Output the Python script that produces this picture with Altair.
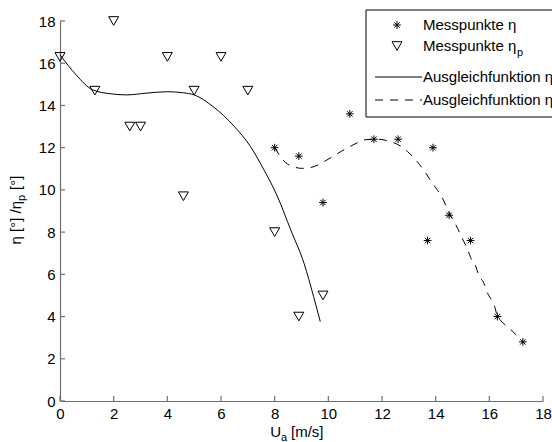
import altair as alt
import pandas as pd

# ---- data ----
tri_x = [0.0, 1.3, 2.0, 2.6, 3.0, 4.0, 4.6, 5.0, 6.0, 7.0, 8.0, 8.9, 9.8]
tri_y = [16.3, 14.7, 18.0, 13.0, 13.0, 16.3, 9.7, 14.7, 16.3, 14.7, 8.0, 4.0, 5.0]

star_x = [8.0, 8.9, 9.8, 10.8, 11.7, 12.6, 13.9, 14.5, 13.7, 15.3, 16.3, 17.25]
star_y = [12.0, 11.6, 9.4, 13.6, 12.4, 12.4, 12.0, 8.8, 7.6, 7.6, 4.0, 2.8]

fit1_x = [0.0, 0.6, 1.2, 1.9, 2.5, 3.2, 4.0, 4.6, 5.0, 5.7, 6.5, 7.1, 7.6, 8.1, 8.6, 9.1, 9.45, 9.7]
fit1_y = [16.4, 15.45, 14.75, 14.55, 14.5, 14.58, 14.65, 14.6, 14.5, 13.95, 13.0, 12.05, 10.95, 9.7, 8.1, 6.5, 4.95, 3.76]

fit2_x = [8.0, 8.4, 8.7, 9.0, 9.3, 9.65, 9.95, 10.25, 10.5, 10.8, 11.1, 11.4, 11.8, 12.1, 12.4,
          12.7, 12.95, 13.2, 13.4, 13.6, 13.8, 14.0, 14.2, 14.4, 14.55, 14.75, 14.9, 15.05, 15.2,
          15.3, 15.5, 15.6, 15.8, 15.9, 16.05, 16.2, 16.3, 16.4, 16.55, 16.75, 17.0, 17.25]
fit2_y = [12.0, 11.3, 11.1, 11.02, 11.05, 11.2, 11.42, 11.65, 11.84, 12.05, 12.24, 12.38, 12.4, 12.36, 12.25,
          12.07, 11.82, 11.5, 11.2, 10.85, 10.47, 10.1, 9.75, 9.2, 8.8, 8.35, 7.95, 7.55, 7.15,
          6.8, 6.36, 5.97, 5.57, 5.2, 4.85, 4.47, 4.0, 3.84, 3.65, 3.44, 3.13, 2.81]

ticks = [0, 2, 4, 6, 8, 10, 12, 14, 16, 18]

legend_labels = ["Messpunkte \u03b7", "Messpunkte \u03b7", "Ausgleichfunktion \u03b7", "Ausgleichfunktion \u03b7"]

FONT = "Liberation Sans"
AX = "#707070"
STAR = "M-1,0L1,0M0,-1L0,1M-0.7,-0.7L0.7,0.7M-0.7,0.7L0.7,-0.7"

W, H = 483, 380

xs = alt.Scale(domain=[0, 18], nice=False, zero=False)
ys = alt.Scale(domain=[0, 18], nice=False, zero=False)

xaxis = alt.Axis(values=ticks, tickSize=0, labelFontSize=15, labelFont=FONT, labelColor="black",
                 domainColor=AX, domainWidth=1.2, grid=False, title=None, labelPadding=5,
                 labelFlush=False, labelOverlap=False)
yaxis = alt.Axis(values=ticks, tickSize=0, labelFontSize=15, labelFont=FONT, labelColor="black",
                 domainColor=AX, domainWidth=1.2, grid=False, title=None, labelPadding=5,
                 labelOverlap=False)

tri_df = pd.DataFrame({"x": tri_x, "y": tri_y})
star_df = pd.DataFrame({"x": star_x, "y": star_y})
f1_df = pd.DataFrame({"x": fit1_x, "y": fit1_y})
f2_df = pd.DataFrame({"x": fit2_x, "y": fit2_y})
tick_df = pd.DataFrame({"v": ticks})

base_axes = alt.Chart(tick_df).mark_rule(color=AX, strokeWidth=1.2).encode(
    x=alt.X("v:Q", scale=xs, axis=xaxis),
    y=alt.value(H), y2=alt.value(H - 5),
)
ytick = alt.Chart(tick_df).mark_rule(color=AX, strokeWidth=1.2).encode(
    y=alt.Y("v:Q", scale=ys, axis=yaxis),
    x=alt.value(0), x2=alt.value(5),
)

line1 = alt.Chart(f1_df).mark_line(color="black", strokeWidth=1, interpolate="monotone").encode(
    x=alt.X("x:Q", scale=xs), y=alt.Y("y:Q", scale=ys), order="x:Q")
line2 = alt.Chart(f2_df).mark_line(color="black", strokeWidth=1, strokeDash=[8, 7],
                                   interpolate="monotone").encode(
    x=alt.X("x:Q", scale=xs), y=alt.Y("y:Q", scale=ys), order="x:Q")

tri = alt.Chart(tri_df).mark_point(shape="triangle-down", filled=False, color="black",
                                   strokeWidth=1, size=100, opacity=1).encode(
    x=alt.X("x:Q", scale=xs), y=alt.Y("y:Q", scale=ys))
star = alt.Chart(star_df).mark_point(shape=STAR, filled=False, color="black",
                                     strokeWidth=1, size=60, opacity=1).encode(
    x=alt.X("x:Q", scale=xs), y=alt.Y("y:Q", scale=ys))

one = alt.Data(values=[{"a": 1}])

# ---- legend (drawn by hand) ----
box = alt.Chart(one).mark_rect(fill="white", stroke="black", strokeWidth=1).encode(
    x=alt.value(306), x2=alt.value(560), y=alt.value(-11), y2=alt.value(96))
lg_star = alt.Chart(one).mark_point(shape=STAR, filled=False, color="black", strokeWidth=1,
                                    size=60, opacity=1).encode(x=alt.value(337), y=alt.value(4))
lg_tri = alt.Chart(one).mark_point(shape="triangle-down", filled=False, color="black", strokeWidth=1,
                                   size=100, opacity=1).encode(x=alt.value(337), y=alt.value(25))
lg_l1 = alt.Chart(one).mark_rule(color="black", strokeWidth=1).encode(
    x=alt.value(315), x2=alt.value(362), y=alt.value(56))
lg_l2 = alt.Chart(one).mark_rule(color="black", strokeWidth=1, strokeDash=[8, 7]).encode(
    x=alt.value(315), x2=alt.value(362), y=alt.value(79))

lg_texts = []
for lab, yy in zip(legend_labels, [4, 25, 56, 79]):
    lg_texts.append(alt.Chart(one).mark_text(text=lab, font=FONT, fontSize=15, align="left",
                                             baseline="middle", color="black").encode(
        x=alt.value(363), y=alt.value(yy)))
lg_sub = alt.Chart(one).mark_text(text="p", font=FONT, fontSize=11, align="left",
                                  baseline="middle", color="black").encode(
    x=alt.value(457), y=alt.value(32))

# ---- axis titles (drawn by hand, with subscripts) ----
xt1 = alt.Chart(one).mark_text(text="U", font=FONT, fontSize=15, align="right",
                               baseline="alphabetic", color="black").encode(
    x=alt.value(221), y=alt.value(416))
xt2 = alt.Chart(one).mark_text(text="a", font=FONT, fontSize=11, align="left",
                               baseline="alphabetic", color="black").encode(
    x=alt.value(221), y=alt.value(420))
xt3 = alt.Chart(one).mark_text(text="[m/s]", font=FONT, fontSize=15, align="left",
                               baseline="alphabetic", color="black").encode(
    x=alt.value(231), y=alt.value(416))

yt1 = alt.Chart(one).mark_text(text="\u03b7 [\u00b0] /\u03b7", font=FONT, fontSize=15, align="right",
                               baseline="alphabetic", angle=270, color="black").encode(
    x=alt.value(-39), y=alt.value(180))
yt2 = alt.Chart(one).mark_text(text="p", font=FONT, fontSize=11, align="left",
                               baseline="alphabetic", angle=270, color="black").encode(
    x=alt.value(-35), y=alt.value(180))
yt3 = alt.Chart(one).mark_text(text="[\u00b0]", font=FONT, fontSize=15, align="left",
                               baseline="alphabetic", angle=270, color="black").encode(
    x=alt.value(-39), y=alt.value(169))

chart = alt.layer(
    base_axes, ytick, line1, line2, tri, star,
    box, lg_star, lg_tri, lg_l1, lg_l2, *lg_texts, lg_sub,
    xt1, xt2, xt3, yt1, yt2, yt3,
).properties(
    width=W, height=H,
    autosize=alt.AutoSizeParams(type="none"),
    padding={"left": 60, "top": 21, "right": 9, "bottom": 41},
    background="white",
).configure_view(stroke=None)

chart.save("out.html", embed_options={"renderer": "svg", "actions": False})
